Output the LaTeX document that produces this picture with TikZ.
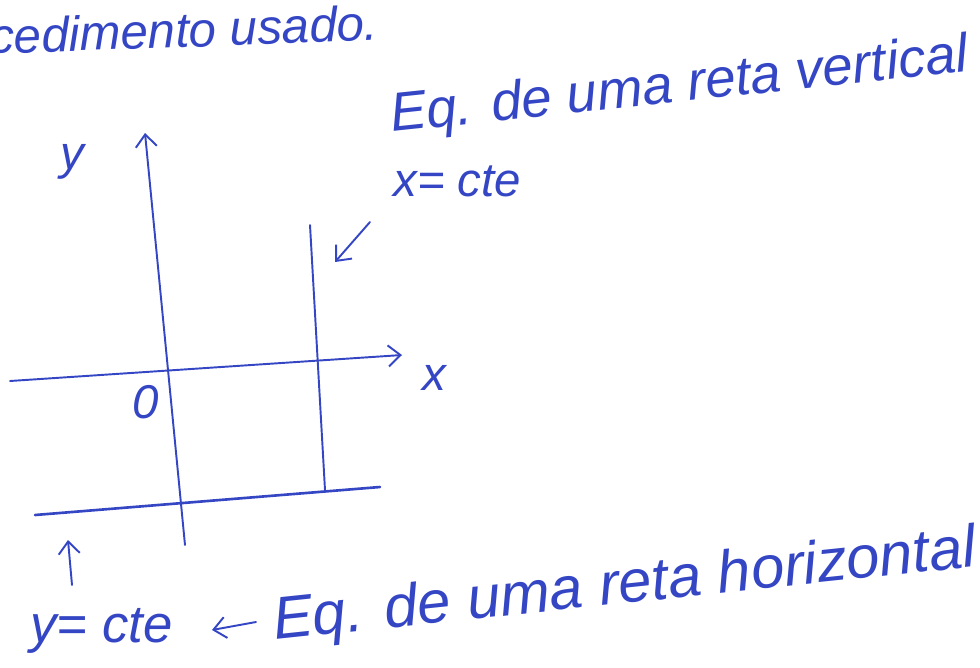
\documentclass[tikz,border=0pt]{standalone}
\usepackage{fontspec}
\setmainfont{Liberation Sans}
\usetikzlibrary{arrows.meta,positioning}
\definecolor{ink}{RGB}{52,70,196}

\begin{document}
\begin{tikzpicture}[x=0.02cm,y=-0.02cm,
    hand/.style={text=ink,font=\itshape\fontsize{27}{29}\selectfont,inner sep=0pt},
    pen/.style={draw=ink,line width=1.1pt,line cap=round},
    tip/.style={-{Straight Barb[length=7pt,width=12pt]}}]
  \useasboundingbox (0,0) rectangle (980,667);
  % words
  \node[hand,font=\itshape\fontsize{28}{30}\selectfont,anchor=base west,rotate=2] (title) at (-10,54) {cedimento usado.};
  \node[hand,font=\itshape\fontsize{31}{33}\selectfont,anchor=base west,rotate=6] (eqv) at (392,132) {Eq. de uma reta vertical};
  \node[hand,anchor=base west] (xcte) at (393,196) {x= cte};
  \node[hand,font=\itshape\fontsize{30}{32}\selectfont,anchor=base west] (ycte) at (30,642) {y= cte};
  \node[hand,font=\itshape\fontsize{34}{36}\selectfont,anchor=base west,rotate=6] (eqh) at (275,640) {Eq. de uma reta horizontal};
  % axes
  \coordinate (ybot) at (185,545);
  \coordinate (ytop) at (145,133);
  \coordinate (xleft) at (10,381);
  \coordinate (xright) at (402,355);
  \draw[pen,tip] (ybot) -- (ytop);
  \draw[pen,tip] (xleft) -- (xright);
  \node[hand] (ylab) at (72,162) {y};
  \node[hand] (xlab) at (434,378) {x};
  \node[hand] (orig) at (146,402) {0};
  % x = cte and y = cte
  \coordinate (vtop) at (310,225);
  \coordinate (vbot) at (325,490);
  \coordinate (hleft) at (35,515);
  \coordinate (hright) at (380,487);
  \draw[pen] (vtop) -- (vbot);
  \draw[pen,line width=1.5pt] (hleft) -- (hright);
  % pointers
  \coordinate (pv) at (370,222);
  \coordinate (pvend) at (335,262);
  \draw[pen,tip] (pv) -- (pvend);
  \coordinate (ph) at (72,585);
  \coordinate (phend) at (68,540);
  \draw[pen,tip] (ph) -- (phend);
  \coordinate (pe) at (256,622);
  \coordinate (peend) at (212,630);
  \draw[pen,tip] (pe) -- (peend);
\end{tikzpicture}
\end{document}
